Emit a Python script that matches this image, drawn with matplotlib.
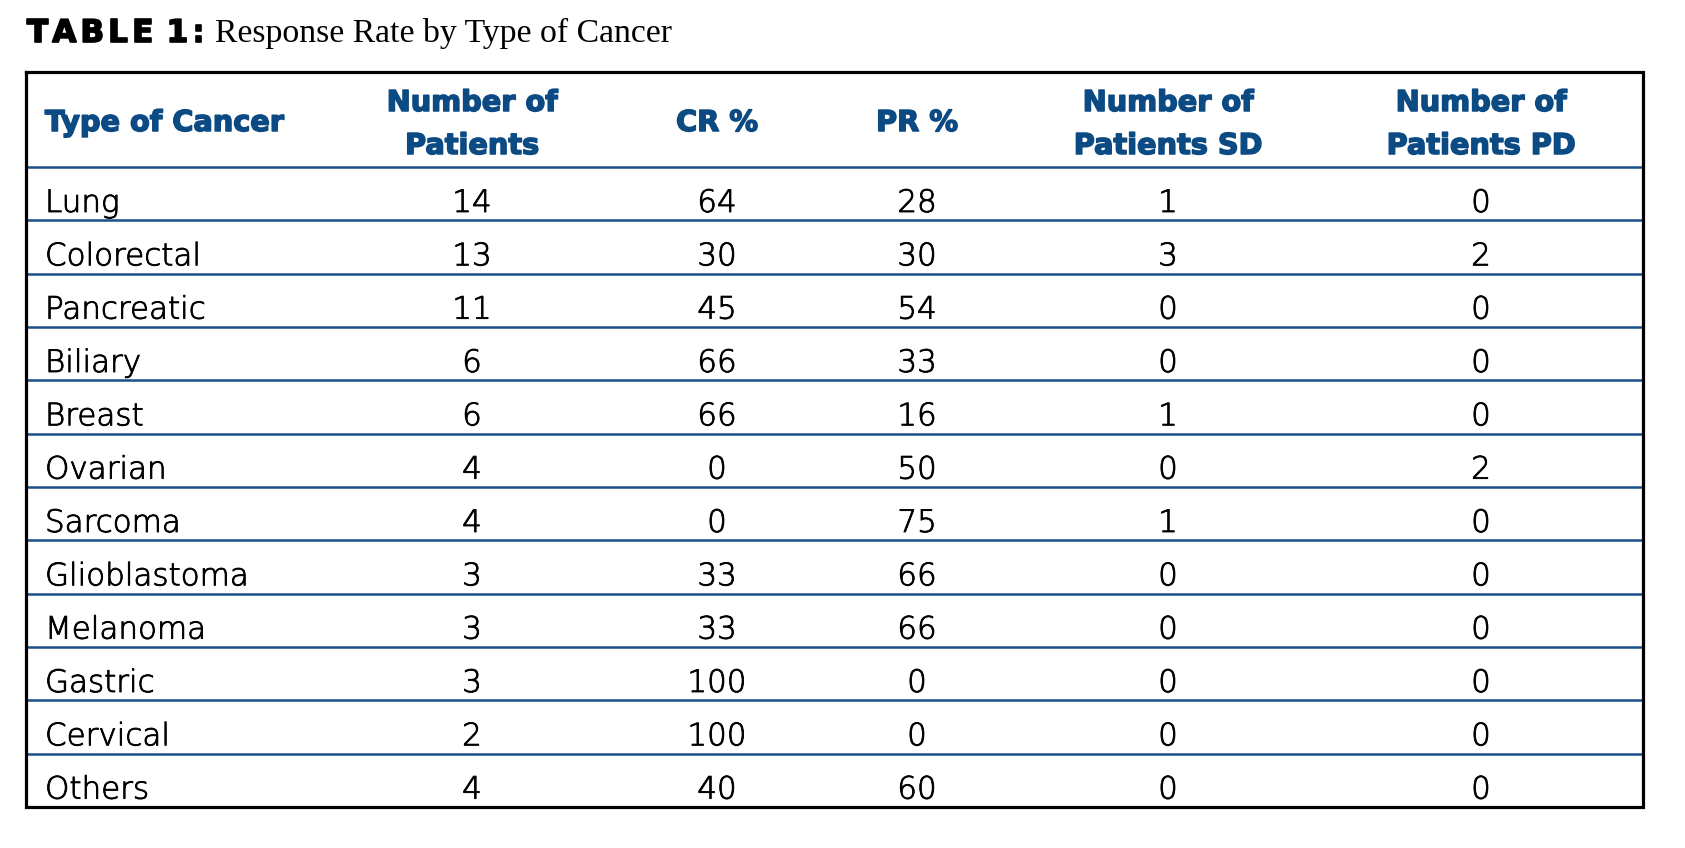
import matplotlib
matplotlib.use("Agg")
import matplotlib.pyplot as plt
import matplotlib.patheffects as pe

# table content
cancer_types = ["Lung", "Colorectal", "Pancreatic", "Biliary", "Breast", "Ovarian",
                "Sarcoma", "Glioblastoma", "Melanoma", "Gastric", "Cervical", "Others"]
n_patients = [14, 13, 11, 6, 6, 4, 4, 3, 3, 3, 2, 4]
cr_pct = [64, 30, 45, 66, 66, 0, 0, 33, 33, 100, 100, 40]
pr_pct = [28, 30, 54, 33, 16, 50, 75, 66, 66, 0, 0, 60]
sd_patients = [1, 3, 0, 0, 1, 0, 1, 0, 0, 0, 0, 0]
pd_patients = [0, 2, 0, 0, 0, 2, 0, 0, 0, 0, 0, 0]
headers = ["Type of Cancer", "Number of\nPatients", "CR %", "PR %",
           "Number of\nPatients SD", "Number of\nPatients PD"]

title_label = "TABLE 1:"
title_text = "Response Rate by Type of Cancer"

# colours
header_color = "#0c4a84"
rule_color = "#1b4f87"
text_color = "black"

W, H = 1685, 848
fig = plt.figure(figsize=(W / 100, H / 100), dpi=100)
ax = fig.add_axes([0, 0, 1, 1])
ax.set_xlim(0, W)
ax.set_ylim(H, 0)
ax.axis("off")

# layout in pixels
left, right = 26, 1643
top, head_bottom = 72, 167
row_h = (807 - head_bottom) / len(cancer_types)
bottom = head_bottom + row_h * len(cancer_types)
col_x = [45, 472, 717, 917, 1168, 1481]

# thicken strokes a little
heavy = lambda c, w: [pe.withStroke(linewidth=w, foreground=c)]

# title with letter spacing
renderer = fig.canvas.get_renderer()
x = 27
for ch in title_label:
    if ch == " ":
        x += 9
        continue
    t = ax.text(x, 42, ch, fontsize=22.5, fontweight="bold", family="DejaVu Sans",
                color="black", ha="left", va="baseline",
                path_effects=heavy("black", 1.2))
    x += t.get_window_extent(renderer).width + 4
ax.text(215, 42, title_text, fontsize=24.3, family="Liberation Serif",
        color="black", ha="left", va="baseline")

# header
for j, h in enumerate(headers):
    lines = h.split("\n")
    base = [131] if len(lines) == 1 else [111, 154]
    for line, yb in zip(lines, base):
        ax.text(col_x[j], yb, line, fontsize=20.7, fontweight="bold",
                family="DejaVu Sans", color=header_color,
                ha="left" if j == 0 else "center", va="baseline",
                path_effects=heavy(header_color, 1.1))

# body rows
columns = [cancer_types, n_patients, cr_pct, pr_pct, sd_patients, pd_patients]
for i in range(len(cancer_types)):
    yb = head_bottom + i * row_h + 45
    for j, col in enumerate(columns):
        ax.text(col_x[j], yb, str(col[i]), fontsize=22.3, fontweight="light",
                family="DejaVu Sans", color=text_color,
                ha="left" if j == 0 else "center", va="baseline",
                path_effects=heavy(text_color, 0.6))

# horizontal rules
for i in range(len(cancer_types)):
    y = head_bottom + i * row_h
    ax.plot([left, right], [y, y], color=rule_color, lw=1.8, solid_capstyle="butt")

# outer border
ax.plot([left, right, right, left, left], [top, top, bottom, bottom, top],
        color="black", lw=2.3, solid_joinstyle="miter")

fig.savefig("out.png", dpi=100, facecolor="white")
